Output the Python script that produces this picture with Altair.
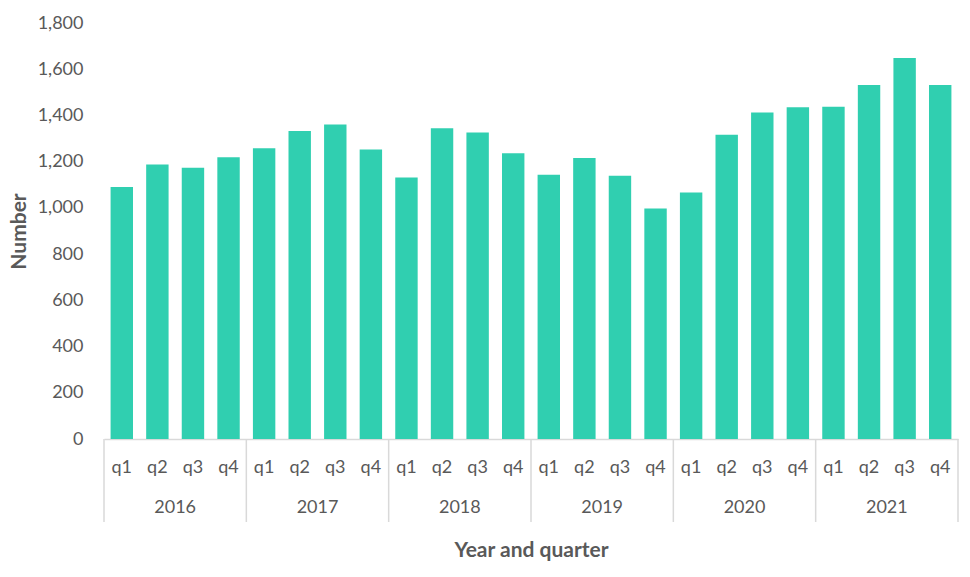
import altair as alt
import pandas as pd

years = ["2016", "2017", "2018", "2019", "2020", "2021"]
quarters = ["q1", "q2", "q3", "q4"]
values = [
    1090, 1188, 1174, 1219,
    1258, 1333, 1361, 1253,
    1132, 1345, 1326, 1236,
    1143, 1216, 1139, 997,
    1067, 1316, 1413, 1435,
    1438, 1532, 1649, 1532,
]
y_ticks = [0, 200, 400, 600, 800, 1000, 1200, 1400, 1600, 1800]

keys = [f"{y} {q}" for y in years for q in quarters]
df = pd.DataFrame({"key": keys, "value": values})
year_df = pd.DataFrame({"key": [f"{y} q2" for y in years], "year": years})
sep_df = pd.DataFrame({"key": [f"{y} q1" for y in years]})
end_df = pd.DataFrame({"key": [keys[-1]]})

W, H = 854, 416
FONT = "Lato"
GREY = "#595959"
LINE = "#d9d9d9"

xscale = alt.Scale(domain=keys, paddingInner=0, paddingOuter=0)

bars = alt.Chart(df).mark_bar(color="#30CFB0", width=alt.RelativeBandSize(0.63)).encode(
    x=alt.X("key:N", scale=xscale, sort=keys,
            axis=alt.Axis(title="Year and quarter", labelExpr="split(datum.label, ' ')[1]",
                          labelAngle=0, ticks=False, tickSize=0, labelPadding=28,
                          labelBaseline="middle", labelFontSize=18, labelColor=GREY,
                          labelFont=FONT, domainColor=LINE, domainWidth=1.5,
                          titleFont=FONT, titleFontSize=21, titleFontWeight="bold",
                          titleColor=GREY, titleY=111, titleBaseline="middle")),
    y=alt.Y("value:Q", scale=alt.Scale(domain=[0, 1800]),
            axis=alt.Axis(title="Number", values=y_ticks, format=",.0f", grid=False,
                          domain=False, ticks=False, labelFontSize=18, labelColor=GREY,
                          labelFont=FONT, labelPadding=21, titleFont=FONT,
                          titleFontSize=21, titleFontWeight="bold", titleColor=GREY,
                          titleX=-85, titleAngle=270, titleBaseline="middle")),
)

year_text = alt.Chart(year_df).mark_text(fontSize=18, color=GREY, font=FONT, baseline="middle").encode(
    x=alt.X("key:N", scale=xscale, sort=keys, bandPosition=1),
    y=alt.value(H + 69),
    text="year:N",
)

seps = alt.Chart(sep_df).mark_rule(color=LINE, strokeWidth=1.5).encode(
    x=alt.X("key:N", scale=xscale, sort=keys, bandPosition=0),
    y=alt.value(H),
    y2=alt.value(H + 83),
)
end_sep = alt.Chart(end_df).mark_rule(color=LINE, strokeWidth=1.5).encode(
    x=alt.X("key:N", scale=xscale, sort=keys, bandPosition=1),
    y=alt.value(H),
    y2=alt.value(H + 83),
)

chart = alt.layer(bars, seps, end_sep, year_text).properties(
    width=W, height=H,
    background="white",
    autosize=alt.AutoSizeParams(type="none"),
    padding={"left": 96, "top": 15, "right": 4, "bottom": 130},
).configure_view(strokeWidth=0, stroke=None)

chart.save("out.html", embed_options={"renderer": "svg", "actions": False})
